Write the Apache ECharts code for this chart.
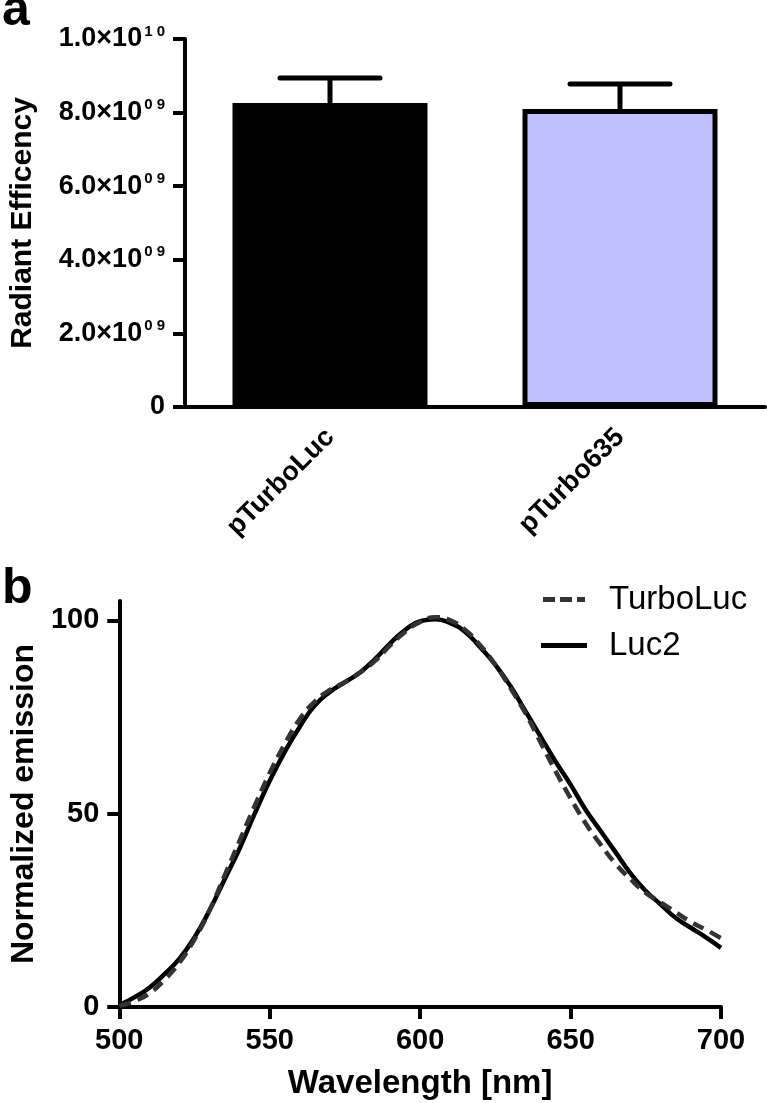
<!DOCTYPE html>
<html><head><meta charset="utf-8">
<script src="https://cdn.jsdelivr.net/npm/echarts@6/dist/echarts.min.js"></script>
<style>html,body{margin:0;padding:0;background:#fff}#c{width:767px;height:1103px}</style>
</head><body><div id="c"></div>
<script>
// ---- Panel a data ----
const categories = ['pTurboLuc', 'pTurbo635'];
const barValues = [8.26e9, 8.1e9];
const barErrors = [0.68e9, 0.68e9];
const barColors = ['#000000', '#BFBFFF'];
const yTicksA = [0, 2e9, 4e9, 6e9, 8e9, 1e10];
const yTickBaseA = ['0', '2.0×10', '4.0×10', '6.0×10', '8.0×10', '1.0×10'];
const yTickSupA = ['', '0 9', '0 9', '0 9', '0 9', '1 0'];

// ---- Panel b data ----
const wavelengths = [500,505,510,515,520,525,530,535,540,545,550,555,560,565,570,575,580,585,590,595,600,605,610,615,620,625,630,635,640,645,650,655,660,665,670,675,680,685,690,695,700];
const turboLuc = [0.3,1.5,3.5,7,11.5,17.5,25,34,43,52,60.5,68,74.5,79,82,84,86.5,89.5,93.5,97,99.6,100.8,100,97.5,93.5,88.5,82.5,76,68.5,61,54,47.5,42,37,33,29.5,27,24.5,22,20,17.8];
const luc2 = [0.5,2.5,5,8.5,12.5,18,25,33,41,50,58.5,66,72.5,78,81.5,84,86.5,90,94,97.5,99.8,100.3,99.3,97,93,88.5,83,76.5,70,63.5,57.5,51,45.5,40,34.5,30,26.5,23,20.5,18,15.3];
const xTicksB = [500, 550, 600, 650, 700];
const yTicksB = [0, 50, 100];
const legendNames = ['TurboLuc', 'Luc2'];

const FF = '"Liberation Sans", Arial, sans-serif';

const chart = echarts.init(document.getElementById('c'), null, {renderer: 'canvas'});

const axisLineStyle = {color: '#000', width: 4};

const option = {
  animation: false,
  backgroundColor: '#fff',
  textStyle: {fontFamily: FF, color: '#000'},
  graphic: [
    {type: 'text', left: 2, top: -14, style: {text: 'a', font: 'bold 50px ' + FF, fill: '#000'}},
    {type: 'text', left: 2, top: 564, style: {text: 'b', font: 'bold 50px ' + FF, fill: '#000'}}
  ],
  legend: {
    data: [
      {name: legendNames[0], icon: 'path://M0,0h12v5h-12z M17,0h12v5h-12z M34,0h8v5h-8z'},
      {name: legendNames[1], icon: 'path://M0,0h46v5h-46z'}
    ],
    orient: 'vertical',
    left: 536, top: 578,
    itemWidth: 46, itemHeight: 5, itemGap: 13,
    textStyle: {fontSize: 33, color: '#000', fontFamily: FF, padding: [0, 0, 0, 17]},
    selectedMode: false
  },
  grid: [
    {left: 177, top: 39, width: 588, height: 368},
    {left: 113, top: 601, width: 608, height: 406}
  ],
  xAxis: [
    {
      type: 'category', gridIndex: 0, data: categories, boundaryGap: true,
      axisLine: {lineStyle: axisLineStyle},
      axisTick: {alignWithLabel: true, length: 11, lineStyle: {width: 4, color: '#000'}},
      axisLabel: {rotate: 45, margin: 26, fontSize: 27, fontWeight: 'bold', color: '#000', fontFamily: FF},
      splitLine: {show: false}
    },
    {
      type: 'value', gridIndex: 1, min: 500, max: 700, interval: 50,
      name: 'Wavelength [nm]', nameLocation: 'middle', nameGap: 60,
      nameTextStyle: {fontSize: 33, fontWeight: 'bold', color: '#000', fontFamily: FF},
      axisLine: {lineStyle: axisLineStyle},
      axisTick: {length: 12, lineStyle: {width: 4, color: '#000'}},
      axisLabel: {margin: 19, fontSize: 29, fontWeight: 'bold', color: '#000', fontFamily: FF},
      splitLine: {show: false}
    }
  ],
  yAxis: [
    {
      type: 'value', gridIndex: 0, min: 0, max: 1e10, interval: 2e9,
      name: 'Radiant Efficency', nameLocation: 'middle', nameGap: 147, nameRotate: 90,
      nameTextStyle: {fontSize: 30, fontWeight: 'bold', color: '#000', fontFamily: FF},
      axisLine: {show: true, lineStyle: axisLineStyle},
      axisTick: {show: true, length: 12, lineStyle: {width: 4, color: '#000'}},
      axisLabel: {
        margin: 20, color: '#000',
        formatter: function (v) {
          let i = yTicksA.findIndex(t => Math.abs(t - v) < 1);
          if (i < 0) return '';
          return yTickSupA[i] ? '{b|' + yTickBaseA[i] + '}{s|' + yTickSupA[i] + '}' : '{b|' + yTickBaseA[i] + '}';
        },
        rich: {
          b: {fontSize: 27, fontWeight: 'bold', fontFamily: FF, color: '#000'},
          s: {fontSize: 15, fontWeight: 'bold', fontFamily: FF, color: '#000', padding: [0, 0, 15, 2]}
        }
      },
      splitLine: {show: false}
    },
    {
      type: 'value', gridIndex: 1, min: 0, max: 105,
      name: 'Normalized emission', nameLocation: 'middle', nameGap: 76, nameRotate: 90,
      nameTextStyle: {fontSize: 32, fontWeight: 'bold', color: '#000', fontFamily: FF},
      axisLine: {show: true, lineStyle: axisLineStyle},
      axisTick: {show: true, length: 12, customValues: yTicksB, lineStyle: {width: 4, color: '#000'}},
      axisLabel: {margin: 20, fontSize: 29, fontWeight: 'bold', color: '#000', fontFamily: FF, customValues: yTicksB},
      splitLine: {show: false}
    }
  ],
  series: [
    {
      type: 'bar', xAxisIndex: 0, yAxisIndex: 0, barWidth: 195,
      data: barValues.map((v, i) => ({value: v, itemStyle: {color: barColors[i], borderColor: '#000', borderWidth: 5}})),
      z: 3
    },
    {
      type: 'custom', xAxisIndex: 0, yAxisIndex: 0, z: 2,
      data: barValues.map((v, i) => [i, v, v + barErrors[i]]),
      renderItem: function (params, api) {
        const x = api.value(0);
        const lo = api.coord([x, api.value(1)]);
        const hi = api.coord([x, api.value(2)]);
        const hw = 50;
        return {
          type: 'group',
          children: [
            {type: 'line', shape: {x1: lo[0], y1: lo[1], x2: hi[0], y2: hi[1]}, style: {stroke: '#000', lineWidth: 5}},
            {type: 'line', shape: {x1: hi[0] - hw, y1: hi[1], x2: hi[0] + hw, y2: hi[1]}, style: {stroke: '#000', lineWidth: 5, lineCap: 'round'}}
          ]
        };
      }
    },
    {
      name: legendNames[0], type: 'line', xAxisIndex: 1, yAxisIndex: 1, smooth: true, symbol: 'none',
      data: wavelengths.map((w, i) => [w, turboLuc[i]]),
      lineStyle: {color: '#333333', width: 4.5, type: [12, 7]},
      itemStyle: {color: '#333333'}, z: 3
    },
    {
      name: legendNames[1], type: 'line', xAxisIndex: 1, yAxisIndex: 1, smooth: true, symbol: 'none',
      data: wavelengths.map((w, i) => [w, luc2[i]]),
      lineStyle: {color: '#000000', width: 4.5},
      itemStyle: {color: '#000000'}, z: 2
    }
  ]
};
chart.setOption(option);
</script>
</body></html>
